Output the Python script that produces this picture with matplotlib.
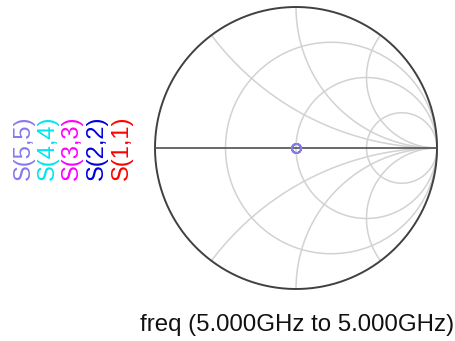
import numpy as np
import matplotlib
matplotlib.use("Agg")
import matplotlib.pyplot as plt

# S-parameter traces (single frequency point, 5 GHz)
trace_names = ["S(5,5)", "S(4,4)", "S(3,3)", "S(2,2)", "S(1,1)"]
trace_colors = ["#8878f0", "#00e5ee", "#ff00ff", "#0000dd", "#ff0000"]
trace_re = [0.0, 0.0, 0.0, 0.0, 0.0]
trace_im = [0.0, 0.0, 0.0, 0.0, 0.0]

# grid values of the Smith chart
r_values = [1/3, 1.0, 3.0]
x_values = [0.5, 1.0, 2.0]

title = "freq (5.000GHz to 5.000GHz)"

plt.rcParams['font.family'] = ['Liberation Sans', 'DejaVu Sans']

fig = plt.figure(figsize=(4.56, 3.41), dpi=100)
ax = fig.add_axes([155/456, (341-289)/341, 282/456, 282/341])
ax.set_xlim(-1, 1)
ax.set_ylim(-1, 1)
ax.set_aspect('equal')
ax.axis('off')

grid_col = "#d2d2d2"
t = np.linspace(0, 2*np.pi, 600)

# constant resistance circles
for r in r_values:
    c = r/(1+r)
    rad = 1/(1+r)
    ax.plot(c + rad*np.cos(t), rad*np.sin(t), color=grid_col, lw=1.1, clip_on=False)

# constant reactance arcs (inside unit circle only)
for x in x_values:
    for sgn in (1, -1):
        cx, cy, rad = 1.0, sgn/x, 1/x
        px = cx + rad*np.cos(t)
        py = cy + rad*np.sin(t)
        inside = px**2 + py**2 <= 1.0001
        px = np.where(inside, px, np.nan)
        py = np.where(inside, py, np.nan)
        ax.plot(px, py, color=grid_col, lw=1.1, clip_on=False)

# outer circle and real axis
ax.plot(np.cos(t), np.sin(t), color="#404040", lw=1.4, clip_on=False)
ax.plot([-1, 1], [0, 0], color="#505050", lw=1.2, clip_on=False)

# trace markers, S(1,1) drawn first
for name, col, re, im in reversed(list(zip(trace_names, trace_colors, trace_re, trace_im))):
    ax.plot(re, im, 'o', mfc='none', mec=col, ms=6.5, mew=1.2, clip_on=False)

# legend labels, rotated
label_x = [24, 48, 72, 97, 122]
for name, col, lx in zip(trace_names, trace_colors, label_x):
    fig.text(lx/456, 1 - 148/341, name, color=col, rotation=90,
             ha='center', va='center', fontsize=17)

fig.text(297/456, 1 - 325/341, title, ha='center', va='center',
         fontsize=17.3, color='#111111')

fig.savefig("out.png", dpi=100)
